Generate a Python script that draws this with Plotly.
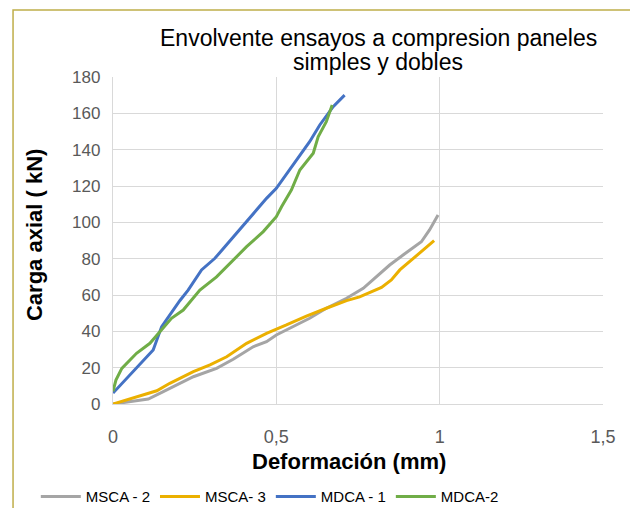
import plotly.graph_objects as go

# MSCA - 2 (gray)
msca2_x = [0, 0.108, 0.154, 0.195, 0.246, 0.317, 0.368, 0.429, 0.47, 0.5, 0.551, 0.602, 0.653, 0.715, 0.766, 0.806, 0.847, 0.888, 0.944, 0.969, 0.995]
msca2_y = [0, 2.7, 6.8, 10.5, 15, 19.6, 24.6, 31.5, 34.3, 38, 42.6, 47.2, 52.7, 58.2, 63.7, 70, 76.5, 82, 89.3, 95.8, 104]
# MSCA- 3 (gold)
msca3_x = [0, 0.134, 0.174, 0.246, 0.297, 0.348, 0.409, 0.47, 0.531, 0.592, 0.653, 0.715, 0.755, 0.822, 0.852, 0.878, 0.983]
msca3_y = [0, 7.3, 11.4, 17.8, 21.5, 26, 33.4, 38.9, 43.5, 48.4, 52.7, 56.9, 59, 64.2, 68.3, 73.8, 89.9]
# MDCA - 1 (blue)
mdca1_x = [0, 0.123, 0.149, 0.205, 0.23, 0.271, 0.312, 0.378, 0.429, 0.47, 0.5, 0.541, 0.572, 0.602, 0.633, 0.674, 0.709]
mdca1_y = [6, 29.7, 42.6, 57, 62.7, 73.8, 80.2, 94, 105, 113.2, 118.7, 128.8, 137, 144.4, 153.6, 163.7, 170]
# MDCA-2 (green)
mdca2_x = [0, 0.009, 0.027, 0.047, 0.072, 0.113, 0.149, 0.179, 0.215, 0.266, 0.317, 0.368, 0.409, 0.46, 0.5, 0.516, 0.546, 0.572, 0.613, 0.628, 0.653, 0.671]
mdca2_y = [7, 13.2, 19.6, 23.3, 27.9, 33.4, 40.7, 47.2, 51.7, 62.7, 70, 79.3, 86.6, 94.9, 103.1, 108.6, 117.8, 128.8, 138, 147.1, 155.4, 164.6]

series = [
    ("MSCA - 2", msca2_x, msca2_y, "#a5a5a5"),
    ("MSCA- 3", msca3_x, msca3_y, "#ebb000"),
    ("MDCA - 1", mdca1_x, mdca1_y, "#4472c4"),
    ("MDCA-2", mdca2_x, mdca2_y, "#70ad47"),
]

fig = go.Figure()
for name, xs, ys, col in series:
    fig.add_trace(go.Scatter(x=xs, y=ys, mode="lines", name=name,
                             line=dict(color=col, width=3)))

font_main = "Liberation Sans, Arial, sans-serif"
fig.update_layout(
    width=622, height=500,
    margin=dict(l=105, r=27, t=69, b=104, autoexpand=False),
    paper_bgcolor="white", plot_bgcolor="white",
    separators=",.",
    font=dict(family=font_main, color="#595959", size=15),
    showlegend=True,
    legend=dict(orientation="h", x=0.32, xanchor="center", y=-0.284, yanchor="middle",
                font=dict(size=15, color="#000000"), itemwidth=40, tracegroupgap=0),
    xaxis=dict(range=[0, 1.5], dtick=0.5, tick0=0, showgrid=True, gridcolor="#d9d9d9",
               gridwidth=1.3, zeroline=False, showline=True, linecolor="#d9d9d9", linewidth=1.3,
               automargin=False,
               ticks="", ticklabelstandoff=16, tickfont=dict(size=18, color="#595959")),
    yaxis=dict(range=[0, 180], dtick=20, tick0=0, showgrid=True, gridcolor="#d9d9d9",
               gridwidth=1.3, zeroline=False, showline=True, linecolor="#d9d9d9", linewidth=1.3,
               automargin=False,
               ticks="", ticklabelstandoff=8, tickfont=dict(size=17, color="#595959")),
    annotations=[
        dict(text="Envolvente ensayos a compresion paneles", xref="paper", yref="paper",
             x=0.541, y=1.119, xanchor="center", yanchor="middle", showarrow=False,
             font=dict(size=23, color="#000000", family=font_main)),
        dict(text="simples y dobles", xref="paper", yref="paper",
             x=0.541, y=1.046, xanchor="center", yanchor="middle", showarrow=False,
             font=dict(size=23, color="#000000", family=font_main)),
        dict(text="<b>Deformación (mm)</b>", xref="paper", yref="paper", x=0.482, y=-0.176,
             xanchor="center", yanchor="middle", showarrow=False,
             font=dict(size=22, color="#000000", family=font_main)),
        dict(text="<b>Carga axial ( kN)</b>", xref="paper", yref="paper", x=-0.159, y=0.517,
             xanchor="center", yanchor="middle", showarrow=False, textangle=-90,
             font=dict(size=22, color="#000000", family=font_main)),
    ],
    shapes=[dict(type="rect", xref="paper", yref="paper", x0=-0.204, x1=1.2, y0=-0.5, y1=1.205,
                 line=dict(color="#bfae4a", width=1.5), fillcolor="rgba(0,0,0,0)", layer="above")],
)

fig.write_html("out.html")
